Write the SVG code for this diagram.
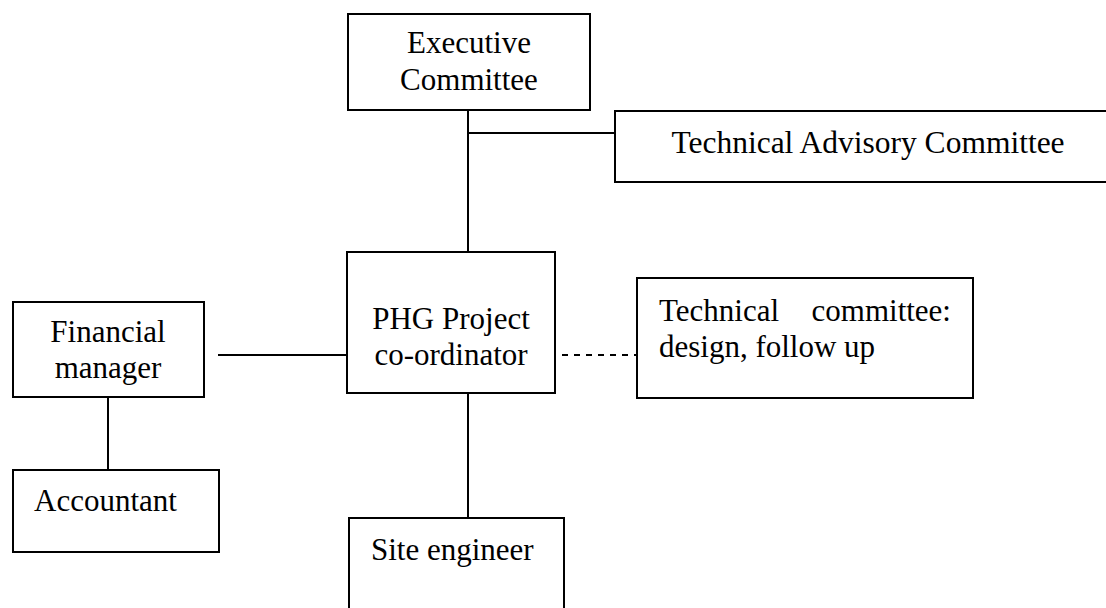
<svg xmlns="http://www.w3.org/2000/svg" width="1106" height="608" viewBox="0 0 1106 608">
<style>
.box{fill:#fff;stroke:#000;stroke-width:2}
.ln{stroke:#000;stroke-width:2;fill:none}
.dash{stroke:#000;stroke-width:2;fill:none;stroke-dasharray:6 6}
text{font-family:"Liberation Serif","Times New Roman",serif;font-size:31px;fill:#000}
.c{text-anchor:middle}
</style>
<rect width="1106" height="608" fill="#fff"/>
<g id="connectors">
<line class="ln" x1="468" y1="110" x2="468" y2="252"/>
<line class="ln" x1="468" y1="133" x2="615" y2="133"/>
<line class="ln" x1="218" y1="355" x2="358" y2="355"/>
<line class="dash" x1="550" y1="355" x2="640" y2="355"/>
<line class="ln" x1="108" y1="397" x2="108" y2="470"/>
<line class="ln" x1="468" y1="393" x2="468" y2="518"/>
</g>
<g id="exec">
<rect class="box" x="348" y="14" width="242" height="96"/>
<text class="c" x="469" y="53">Executive</text>
<text class="c" x="469" y="90">Committee</text>
</g>
<g id="tac">
<rect class="box" x="615" y="111" width="500" height="71"/>
<text class="c" x="868" y="153" style="font-size:31.5px">Technical Advisory Committee</text>
</g>
<g id="phg">
<rect class="box" x="347" y="252" width="208" height="141"/>
<text class="c" x="451" y="329">PHG Project</text>
<text class="c" x="451" y="365">co-ordinator</text>
</g>
<g id="financial">
<rect class="box" x="13" y="302" width="191" height="95"/>
<text class="c" x="108" y="342">Financial</text>
<text class="c" x="108" y="378">manager</text>
</g>
<g id="techcom">
<rect class="box" x="637" y="278" width="336" height="120"/>
<text x="659" y="321">Technical</text>
<text x="951" y="321" text-anchor="end">committee:</text>
<text x="659" y="357">design, follow up</text>
</g>
<g id="accountant">
<rect class="box" x="13" y="470" width="206" height="82"/>
<text x="34" y="511">Accountant</text>
</g>
<g id="site">
<rect class="box" x="349" y="518" width="215" height="110"/>
<text x="371" y="560">Site engineer</text>
</g>
</svg>
